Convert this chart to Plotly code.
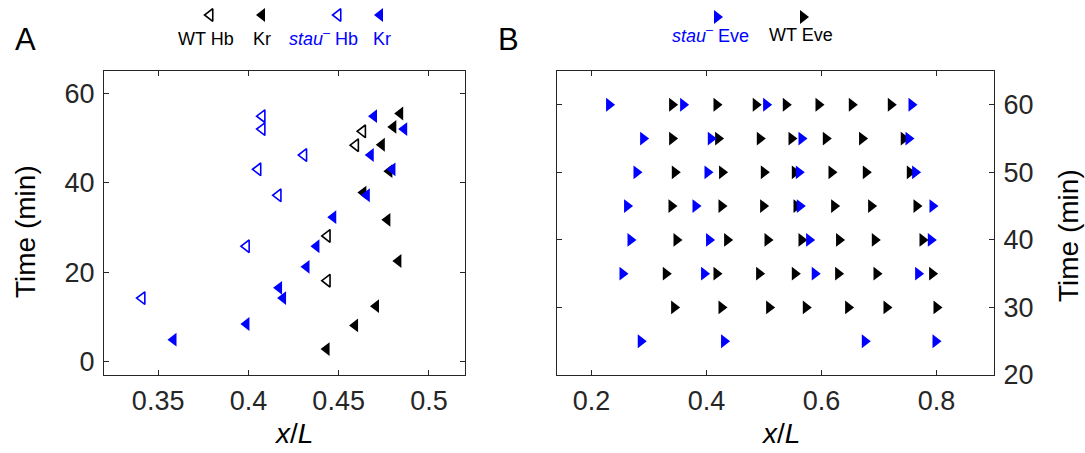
import plotly.graph_objects as go

# ---------------- Panel A data ----------------
wt_hb_x = [0.4633, 0.4594, 0.4437, 0.4437]
wt_hb_t = [51.5, 48.4, 28.1, 18.1]

wt_kr_x = [0.4841, 0.4803, 0.4739, 0.4781, 0.4637, 0.4770, 0.4831, 0.4707, 0.4591, 0.4433]
wt_kr_t = [55.5, 52.5, 48.5, 42.6, 37.8, 31.7, 22.5, 12.4, 8.1, 2.8]

stau_hb_x = [0.4076, 0.4076, 0.4307, 0.4053, 0.4165, 0.3989, 0.3411]
stau_hb_t = [54.9, 52.0, 46.2, 43.0, 37.2, 25.8, 14.2]

stau_kr_x = [0.4696, 0.4863, 0.4678, 0.4798, 0.4656, 0.4470, 0.4377, 0.4322,
             0.4170, 0.4192, 0.3989, 0.3585]
stau_kr_t = [54.9, 52.0, 46.2, 43.0, 37.2, 32.3, 25.8, 21.2, 16.5, 14.2, 8.4, 4.9]

# ---------------- Panel B data ----------------
stau_eve_x = [0.2306, 0.3593, 0.5037, 0.7565,
              0.2898, 0.4075, 0.5652, 0.7513,
              0.2783, 0.4017, 0.5605, 0.7628,
              0.2619, 0.3809, 0.5623, 0.7930,
              0.2678, 0.4045, 0.5785, 0.7901,
              0.2539, 0.3958, 0.5883, 0.7680,
              0.2857, 0.4306, 0.6753, 0.7983]
stau_eve_t = [60, 60, 60, 60,
              55, 55, 55, 55,
              50, 50, 50, 50,
              45, 45, 45, 45,
              40, 40, 40, 40,
              35, 35, 35, 35,
              25, 25, 25, 25]

wt_eve_x = [0.3402, 0.4174, 0.4857, 0.5379, 0.5948, 0.6527, 0.7205,
            0.3402, 0.4202, 0.4927, 0.5478, 0.6075, 0.6706, 0.7431,
            0.3449, 0.4271, 0.4997, 0.5536, 0.6174, 0.6771, 0.7536,
            0.3391, 0.4261, 0.4985, 0.5565, 0.6220, 0.6863, 0.7652,
            0.3478, 0.4359, 0.5061, 0.5652, 0.6306, 0.6927, 0.7757,
            0.3292, 0.4174, 0.4915, 0.5536, 0.6289, 0.6957, 0.7924,
            0.3437, 0.4261, 0.5089, 0.5727, 0.6463, 0.7130, 0.8000]
wt_eve_t = [60] * 7 + [55] * 7 + [50] * 7 + [45] * 7 + [40] * 7 + [35] * 7 + [30] * 7

xticks_a = [0.35, 0.4, 0.45, 0.5]
yticks_a = [0, 20, 40, 60]
xticks_b = [0.2, 0.4, 0.6, 0.8]
yticks_b = [20, 30, 40, 50, 60]

BLUE = "#0000FF"
BLACK = "#000000"
FONT = "Liberation Sans, Arial, sans-serif"
W, H = 1085, 453

fig = go.Figure()
MS = 12


def marker(sym, color, open_):
    if open_:
        return dict(symbol=sym, size=MS - 1, color=color, line=dict(color=color, width=1.6))
    return dict(symbol=sym, size=MS, color=color, line=dict(width=0))


def add(x, y, sym, color, xa, ya, open_=False):
    fig.add_trace(go.Scatter(x=x, y=y, mode="markers", xaxis=xa, yaxis=ya, showlegend=False,
                             marker=marker(sym, color, open_)))


add(stau_hb_x, stau_hb_t, "triangle-left-open", BLUE, "x", "y", True)
add(wt_hb_x, wt_hb_t, "triangle-left-open", BLACK, "x", "y", True)
add(wt_kr_x, wt_kr_t, "triangle-left", BLACK, "x", "y")
add(stau_kr_x, stau_kr_t, "triangle-left", BLUE, "x", "y")
add(wt_eve_x, wt_eve_t, "triangle-right", BLACK, "x2", "y2")
add(stau_eve_x, stau_eve_t, "triangle-right", BLUE, "x2", "y2")

# legend markers (paper coordinates)
legend_marks = [
    (210, 15, "triangle-left-open", BLACK, True),
    (262, 15, "triangle-left", BLACK, False),
    (338, 15, "triangle-left-open", BLUE, True),
    (380, 15, "triangle-left", BLUE, False),
    (717, 17, "triangle-right", BLUE, False),
    (803, 17, "triangle-right", BLACK, False),
]
for px, py, sym, col, op in legend_marks:
    fig.add_trace(go.Scatter(x=[px / W], y=[1 - py / H], mode="markers", xaxis="x3", yaxis="y3",
                             showlegend=False, marker=marker(sym, col, op), cliponaxis=False))

axcol = "#262626"
common = dict(showline=True, linecolor=axcol, linewidth=1, mirror="ticks", ticks="inside",
              ticklen=5, tickcolor=axcol, tickwidth=1, showgrid=False, zeroline=False,
              automargin=False, tickfont=dict(family=FONT, size=27, color="#262626"))

ytop, ybot = 71, 375
yd = [1 - ybot / H, 1 - ytop / H]

fig.update_layout(
    width=W, height=H, margin=dict(l=0, r=0, t=0, b=0, autoexpand=False),
    paper_bgcolor="white", plot_bgcolor="rgba(0,0,0,0)",
    xaxis=dict(domain=[104 / W, 465 / W], range=[0.32, 0.52], tickvals=xticks_a,
               ticktext=["0.35", "0.4", "0.45", "0.5"], anchor="y", ticklabelstandoff=2, **common),
    yaxis=dict(domain=yd, range=[-3, 65], tickvals=yticks_a, anchor="x", ticklabelstandoff=3, **common),
    xaxis2=dict(domain=[557 / W, 994 / W], range=[0.14, 0.9], tickvals=xticks_b,
                ticktext=["0.2", "0.4", "0.6", "0.8"], anchor="y2", ticklabelstandoff=2, **common),
    yaxis2=dict(domain=yd, range=[20, 65], tickvals=yticks_b, anchor="x2", side="right",
                ticklabelstandoff=3, **common),
    xaxis3=dict(domain=[0, 1], range=[0, 1], visible=False, fixedrange=True, anchor="y3",
                automargin=False),
    yaxis3=dict(domain=[0, 1], range=[0, 1], visible=False, fixedrange=True, anchor="x3",
                automargin=False),
)


def ann(text, px, py, size=18, color="black", angle=0):
    fig.add_annotation(x=px / W, y=1 - py / H, xref="paper", yref="paper", text=text,
                       showarrow=False, font=dict(family=FONT, size=size, color=color),
                       textangle=angle, xanchor="center", yanchor="middle")


ann("A", 25, 39, size=31)
ann("B", 508, 39, size=31)
ann("WT Hb", 206, 39, size=18)
ann("Kr", 262, 39, size=18)
ann("<i>stau</i><sup>–</sup> Hb", 323, 38, size=18, color=BLUE)
ann("Kr", 382, 39, size=18, color=BLUE)
ann("<i>stau</i><sup>–</sup> Eve", 710, 35, size=18, color=BLUE)
ann("WT Eve", 801, 35, size=18)
ann("Time (min)", 26, 232, size=28, angle=-90)
ann("Time (min)", 1068, 236, size=28, angle=-90)
ann("<i>x</i>/<i>L</i>", 293, 433, size=28)
ann("<i>x</i>/<i>L</i>", 780, 433, size=28)

fig.write_html("out.html")
